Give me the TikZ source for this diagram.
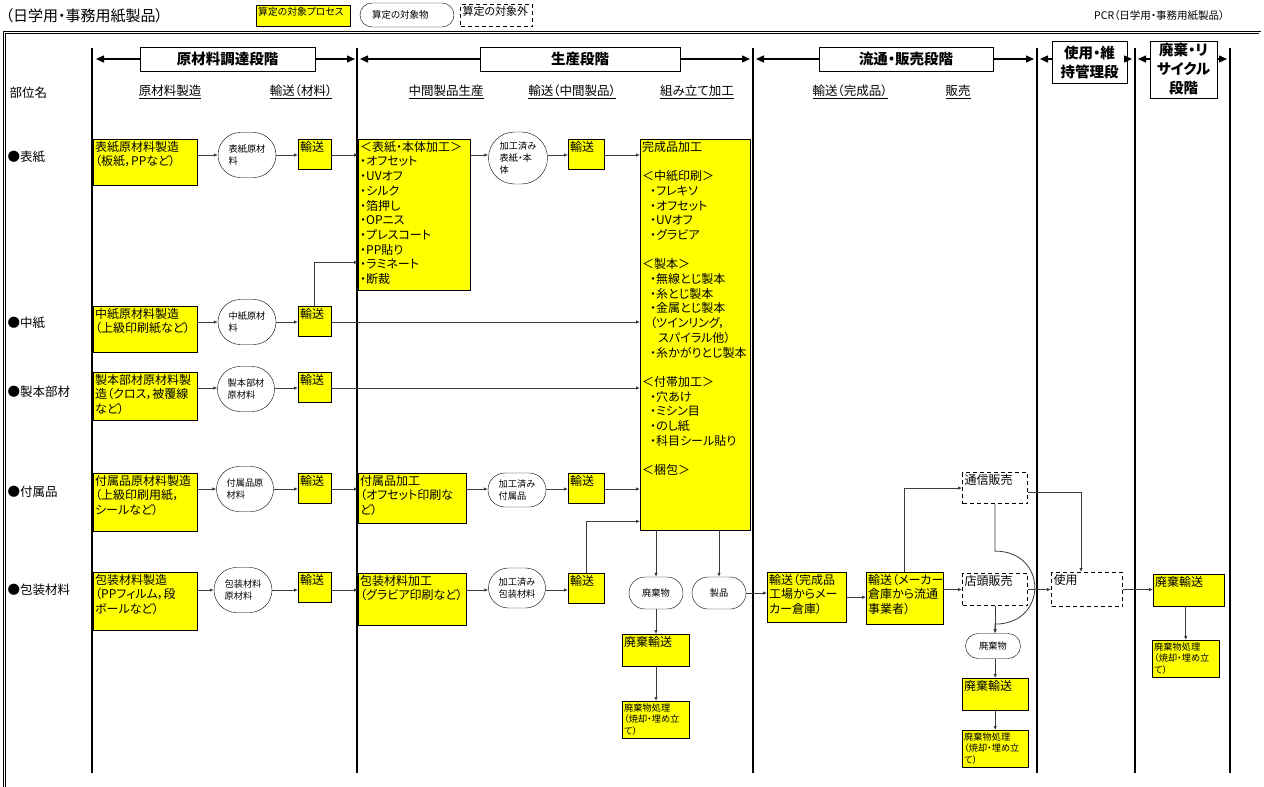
\documentclass[tikz,border=0pt]{standalone}
\usepackage{fontspec}
\setmainfont{Noto Sans CJK JP}[RawFeature=+palt]
\usetikzlibrary{arrows.meta,positioning,calc,shapes.misc}
\definecolor{procyellow}{RGB}{255,255,0}
\definecolor{linegray}{RGB}{60,60,60}

\tikzset{
  proc/.style={draw,fill=procyellow,anchor=north west,align=left,inner xsep=2pt,inner ysep=2pt,text height=10pt,font=\fontsize{12}{14.7}\selectfont},
  smallproc/.style={proc,text height=8pt,font=\fontsize{9.2}{11.5}\selectfont},
  obj/.style={draw,rounded rectangle,align=left,inner sep=1pt,font=\fontsize{9.2}{11.7}\selectfont},
  outside/.style={draw,dash pattern=on 4pt off 3pt,line width=1.1pt,anchor=north west,align=left,inner xsep=2pt,inner ysep=2pt,text height=10pt,font=\fontsize{12}{14.7}\selectfont},
  stage/.style={draw,line width=0.8pt,fill=white,align=center,inner sep=1pt,font=\bfseries\fontsize{14.5}{19}\selectfont},
  stagearr/.style={line width=1.3pt,-{Triangle[length=8pt,width=7pt]}},
  conn/.style={draw=linegray,line width=0.8pt,-{Latex[length=4pt,width=3.5pt]}},
  colline/.style={line width=2.2pt},
  colhead/.style={font=\fontsize{12.5}{14}\selectfont},
  part/.style={anchor=west,font=\fontsize{12.5}{14}\selectfont},
}

\begin{document}
\begin{tikzpicture}[x=1pt,y=-1pt]
\useasboundingbox (0,0) rectangle (1264,787);

% title and legend
\node[anchor=west,font=\fontsize{15}{17}\selectfont] (title) at (2,16) {（日学用・事務用紙製品）};
\node[anchor=east,font=\fontsize{10.5}{12}\selectfont] (pcr) at (1228,16) {PCR（日学用・事務用紙製品）};
\node[proc,text width=90pt,text height=8.5pt,text depth=8.5pt,font=\fontsize{9.8}{11}\selectfont] (lgproc) at (256,5) {算定の対象プロセス};
\node[obj,minimum width=96pt,minimum height=24pt,text width=70pt,font=\fontsize{9.5}{11}\selectfont] (lgobj) at (407,15) {算定の対象物};
\node[outside,text width=68pt,text height=9pt,text depth=9pt,font=\fontsize{11}{12}\selectfont] (lgout) at (460,4) {算定の対象外};

% frame and column lines
\draw[double,double distance=1.4pt,line width=0.7pt] (4.5,790) -- (4.5,32.5) -- (1260,32.5) -- (1260,790);
\foreach \i/\x in {1/92,2/357,3/753,4/1037,5/1135,6/1230}{
  \draw[colline] (\x,48) -- (\x,773);
  \coordinate (col\i) at (\x,59);
}

% stages
\node[stage,minimum width=175pt,minimum height=24pt] (s1) at (227.5,59) {原材料調達段階};
\node[stage,minimum width=200pt,minimum height=24pt] (s2) at (580,59) {生産段階};
\node[stage,minimum width=174pt,minimum height=24pt] (s3) at (906,59) {流通・販売段階};
\node[stage,minimum width=75pt,minimum height=42pt] (s4) at (1089.5,62) {使用・維\\持管理段};
\node[stage,minimum width=67pt,minimum height=57pt] (s5) at (1183.5,69.5) {廃棄・リ\\サイクル\\段階};
\draw[stagearr] (s1.west) -- ([xshift=4pt]col1);
\draw[stagearr] (s1.east) -- ([xshift=-2pt]col2);
\draw[stagearr] (s2.west) -- ([xshift=3pt]col2);
\draw[stagearr] (s2.east) -- ([xshift=-3pt]col3);
\draw[stagearr] (s3.west) -- ([xshift=3pt]col3);
\draw[stagearr] (s3.east) -- ([xshift=-3pt]col4);
\draw[stagearr] (s4.west |- col4) -- ([xshift=3pt]col4);
\draw[stagearr] (s4.east |- col5) -- ([xshift=-3pt]col5);
\draw[stagearr] (s5.west |- col5) -- ([xshift=3pt]col5);
\draw[stagearr] (s5.east |- col6) -- ([xshift=-3pt]col6);

% column heads
\node[part] (p0) at (6,93) {部位名};
\node[colhead] (h1) at (170,92) {\underline{原材料製造}};
\node[colhead] (h2) at (301,92) {\underline{輸送（材料）}};
\node[colhead] (h3) at (446,92) {\underline{中間製品生産}};
\node[colhead] (h4) at (572,92) {\underline{輸送（中間製品）}};
\node[colhead] (h5) at (697,92) {\underline{組み立て加工}};
\node[colhead] (h6) at (850,92) {\underline{輸送（完成品）}};
\node[colhead] (h7) at (958,92) {\underline{販売}};

% parts
\node[part] (p1) at (4,157) {●表紙};
\node[part] (p2) at (4,323) {●中紙};
\node[part] (p3) at (4,392) {●製本部材};
\node[part] (p4) at (4,492) {●付属品};
\node[part] (p5) at (4,590) {●包装材料};
\coordinate (r1) at (0,155);
\coordinate (r2) at (0,322);
\coordinate (r3) at (0,388);
\coordinate (r4) at (0,489);
\coordinate (r5) at (0,590);

% raw materials
\node[proc,text width=100pt,text depth=32pt] (m1) at (93,139) {表紙原材料製造\\（板紙，PPなど）};
\node[proc,text width=100pt,text depth=32pt] (m2) at (93,306) {中紙原材料製造\\（上級印刷紙など）};
\node[proc,text width=100pt,text depth=34pt] (m3) at (93,372) {製本部材原材料製\\造（クロス，被覆線\\など）};
\node[proc,text width=100pt,text depth=44pt] (m4) at (93,473) {付属品原材料製造\\（上級印刷用紙，\\シールなど）};
\node[proc,text width=100pt,text depth=44pt] (m5) at (93,572) {包装材料製造\\（PPフィルム，段\\ボールなど）};
\node[obj,minimum width=60pt,minimum height=45pt] (rm1) at (247,155) {表紙原材\\料};
\node[obj,minimum width=60pt,minimum height=45pt] (rm2) at (247,322) {中紙原材\\料};
\node[obj,minimum width=59pt,minimum height=45pt] (rm3) at (246,389) {製本部材\\原材料};
\node[obj,minimum width=59pt,minimum height=45pt] (rm4) at (245,489) {付属品原\\材料};
\node[obj,minimum width=60pt,minimum height=45pt] (rm5) at (243,590) {包装材料\\原材料};
\node[proc,text width=29pt,text depth=16pt] (t1) at (298,139) {輸送};
\node[proc,text width=29pt,text depth=16pt] (t2) at (298,306) {輸送};
\node[proc,text width=29pt,text depth=16pt] (t3) at (298,372) {輸送};
\node[proc,text width=29pt,text depth=16pt] (t4) at (298,473) {輸送};
\node[proc,text width=29pt,text depth=16pt] (t5) at (298,572) {輸送};

% production
\node[proc,text width=108pt,text depth=137pt] (hontai) at (358,139) {＜表紙・本体加工＞\\・オフセット\\・UVオフ\\・シルク\\・箔押し\\・OPニス\\・プレスコート\\・PP貼り\\・ラミネート\\・断裁};
\node[proc,text width=104pt,text depth=36pt] (fz) at (358,473) {付属品加工\\（オフセット印刷な\\ど）};
\node[proc,text width=104pt,text depth=38pt] (hz) at (358,573) {包装材料加工\\（グラビア印刷など）};
\node[obj,minimum width=61pt,minimum height=52pt] (im1) at (518,158) {加工済み\\表紙・本\\体};
\node[obj,minimum width=60pt,minimum height=34pt] (im4) at (517,490) {加工済み\\付属品};
\node[obj,minimum width=59pt,minimum height=40pt] (im5) at (517,588) {加工済み\\包装材料};
\node[proc,text width=32pt,text depth=16pt] (ti1) at (568,139) {輸送};
\node[proc,text width=32pt,text depth=16pt] (ti4) at (568,473) {輸送};
\node[proc,text width=32pt,text depth=16pt] (ti5) at (568,573) {輸送};
\node[proc,text width=106pt,text depth=377pt] (kansei) at (640,139) {完成品加工\\[14.7pt]
  ＜中紙印刷＞\\\hspace*{8pt}・フレキソ\\\hspace*{8pt}・オフセット\\\hspace*{8pt}・UVオフ\\\hspace*{8pt}・グラビア\\[14.7pt]
  ＜製本＞\\\hspace*{8pt}・無線とじ製本\\\hspace*{8pt}・糸とじ製本\\\hspace*{8pt}・金属とじ製本\\\hspace*{8pt}（ツインリング，\\\hspace*{16pt}スパイラル他）\\\hspace*{8pt}・糸かがりとじ製本\\[14.7pt]
  ＜付帯加工＞\\\hspace*{8pt}・穴あけ\\\hspace*{8pt}・ミシン目\\\hspace*{8pt}・のし紙\\\hspace*{8pt}・科目シール貼り\\[14.7pt]
  ＜梱包＞};
\node[obj,minimum width=56pt,minimum height=32pt] (hk1) at (656,593) {廃棄物};
\node[obj,minimum width=56pt,minimum height=32pt] (seihin) at (719,593) {製品};
\node[proc,text width=63pt,text depth=18pt] (hy1) at (622,634) {廃棄輸送};
\node[smallproc,text width=63pt,text depth=25pt] (hs1) at (622,701) {廃棄物処理\\（焼却・埋め立\\て）};

% distribution
\node[proc,text width=75pt,text depth=36pt] (yk) at (767,572) {輸送（完成品\\工場からメー\\カー倉庫）};
\node[proc,text width=73pt,text depth=38pt] (ym) at (866,572) {輸送（メーカー\\倉庫から流通\\事業者）};
\node[outside,text width=61pt,text depth=17pt] (tsu) at (962,472) {通信販売};
\node[outside,text width=61pt,text depth=18pt] (ten) at (962,573) {店頭販売};
\node[obj,minimum width=57pt,minimum height=25pt] (hk2) at (993,646) {廃棄物};
\node[proc,text width=62pt,text depth=18pt] (hy2) at (962,678) {廃棄輸送};
\node[smallproc,text width=62pt,text depth=25pt] (hs2) at (962,730) {廃棄物処理\\（焼却・埋め立\\て）};

% use and disposal
\node[outside,text width=67pt,text depth=20pt] (use) at (1051,572) {使用};
\node[proc,text width=67pt,text depth=18pt] (hy3) at (1153,574) {廃棄輸送};
\node[smallproc,text width=63pt,text depth=25pt] (hs3) at (1152,640) {廃棄物処理\\（焼却・埋め立\\て）};

% connectors
\draw[conn] (m1.east |- r1) -- (rm1.west |- r1);
\draw[conn] (rm1.east |- r1) -- (t1.west |- r1);
\draw[conn] (t1.east |- r1) -- (hontai.west |- r1);
\draw[conn] (hontai.east |- r1) -- (im1.west |- r1);
\draw[conn] (im1.east |- r1) -- (ti1.west |- r1);
\draw[conn] (ti1.east |- r1) -- (kansei.west |- r1);
\draw[conn] (m2.east |- r2) -- (rm2.west |- r2);
\draw[conn] (rm2.east |- r2) -- (t2.west |- r2);
\draw[conn] (t2.east |- r2) -- (kansei.west |- r2);
\draw[conn] (t2.north) |- ($(hontai.south west)+(0,-28)$);
\draw[conn] (m3.east |- r3) -- (rm3.west |- r3);
\draw[conn] (rm3.east |- r3) -- (t3.west |- r3);
\draw[conn] (t3.east |- r3) -- (kansei.west |- r3);
\draw[conn] (m4.east |- r4) -- (rm4.west |- r4);
\draw[conn] (rm4.east |- r4) -- (t4.west |- r4);
\draw[conn] (t4.east |- r4) -- (fz.west |- r4);
\draw[conn] (fz.east |- r4) -- (im4.west |- r4);
\draw[conn] (im4.east |- r4) -- (ti4.west |- r4);
\draw[conn] (ti4.east |- r4) -- (kansei.west |- r4);
\draw[conn] (m5.east |- r5) -- (rm5.west |- r5);
\draw[conn] (rm5.east |- r5) -- (t5.west |- r5);
\draw[conn] (t5.east |- r5) -- (hz.west |- r5);
\draw[conn] (hz.east |- r5) -- (im5.west |- r5);
\draw[conn] (im5.east |- r5) -- (ti5.west |- r5);
\draw[conn] (ti5.north) |- ($(kansei.south west)+(0,-9)$);
\draw[conn] (kansei.south -| hk1.north) -- (hk1.north);
\draw[conn] (kansei.south -| seihin.north) -- (seihin.north);
\draw[conn] (hk1.south) -- (hy1.north -| hk1.south);
\draw[conn] (hy1.south -| hk1.south) -- (hs1.north -| hk1.south);
\draw[conn] (seihin.east) -- (yk.west |- seihin.east);
\draw[conn] (yk.east) -- (ym.west |- yk.east);
\draw[conn] (ym.north) |- (tsu.west);
\draw[conn] (ym.east |- ten.west) -- (ten.west);
\coordinate (jmp) at ($(tsu.south)+(0,47)$);
\draw[conn] (tsu.south) -- (jmp) .. controls +(53,0) and +(53,0) .. ($(jmp)+(0,73)$) -- (hk2.north -| jmp);
\draw[conn] (ten.south) -- (hk2.north -| ten.south);
\draw[conn] (hk2.south -| hy2.north) -- (hy2.north);
\draw[conn] (hy2.south) -- (hs2.north -| hy2.south);
\draw[conn] ([yshift=-4pt]tsu.east) -| ([xshift=-6pt]use.north);
\draw[conn] (ten.east) -- (use.west |- ten.east);
\draw[conn] (use.east) -- (hy3.west |- use.east);
\draw[conn] (hy3.south -| hs3.north) -- (hs3.north);
\end{tikzpicture}
\end{document}
